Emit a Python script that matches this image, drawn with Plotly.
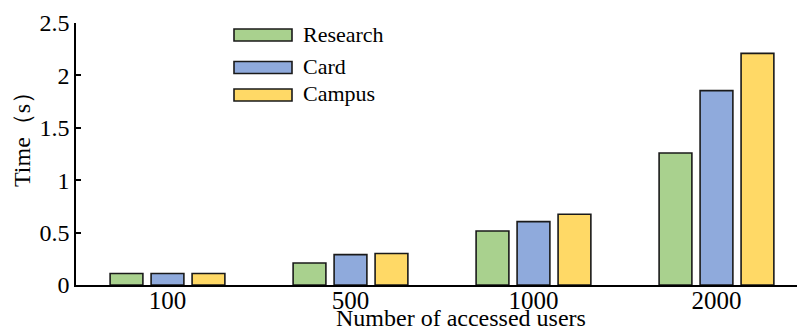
import plotly.graph_objects as go

# Number of accessed users (x categories)
categories = ["100", "500", "1000", "2000"]

# Response time in seconds for each scenario
research = [0.11, 0.21, 0.515, 1.26]
card = [0.11, 0.29, 0.605, 1.855]
campus = [0.11, 0.30, 0.675, 2.21]

series_names = ["Research", "Card", "Campus"]
series_colors = ["#A9D18E", "#8FAADC", "#FFD966"]
series_values = [research, card, campus]

FONT = "Liberation Serif, Times New Roman, serif"
EDGE = "#1a1a1a"
INK = "#000000"

x_pos = list(range(len(categories)))

fig = go.Figure()
for name, color, vals in zip(series_names, series_colors, series_values):
    fig.add_trace(go.Bar(
        x=x_pos, y=vals, name=name,
        marker=dict(color=color, line=dict(color=EDGE, width=1.6)),
        showlegend=False,
    ))

# Legend drawn as boxes + labels in paper coordinates
W, H = 797, 331
ml, mr, mt, mb = 76, 0, 23, 46
pw, ph = W - ml - mr, H - mt - mb


def px_x(px):
    return (px - ml) / pw


def px_y(py):
    return (H - mb - py) / ph


legend_rows = [35, 67.5, 95]
shapes = []
annotations = []
for name, color, cy in zip(series_names, series_colors, legend_rows):
    shapes.append(dict(
        type="rect", xref="paper", yref="paper",
        x0=px_x(234), x1=px_x(292), y0=px_y(cy + 6), y1=px_y(cy - 6),
        fillcolor=color, line=dict(color=EDGE, width=1.6),
    ))
    annotations.append(dict(
        xref="paper", yref="paper", x=px_x(301), y=px_y(cy - 1),
        xanchor="left", yanchor="middle", text=name, showarrow=False,
        font=dict(family=FONT, size=22, color=INK),
    ))

# Axis titles
annotations.append(dict(
    xref="paper", yref="paper", x=px_x(461), y=px_y(317.5),
    xanchor="center", yanchor="middle", text="Number of accessed users",
    showarrow=False, font=dict(family=FONT, size=24, color=INK),
))
annotations.append(dict(
    xref="paper", yref="paper", x=px_x(22), y=px_y(134),
    xanchor="center", yanchor="middle", text="Time（s）", textangle=-90,
    showarrow=False, font=dict(family=FONT, size=24, color=INK),
))

fig.update_layout(
    width=W, height=H,
    margin=dict(l=ml, r=mr, t=mt, b=mb, pad=0),
    paper_bgcolor="white", plot_bgcolor="white",
    barmode="group", bargap=0.328, bargroupgap=0.2,
    font=dict(family=FONT, size=24, color=INK),
    shapes=shapes, annotations=annotations,
    xaxis=dict(
        range=[-0.5, 3.44], tickvals=x_pos, ticktext=categories,
        showline=True, linecolor=INK, linewidth=1.6,
        ticks="", showgrid=False, zeroline=False,
        ticklabelstandoff=-8,
        tickfont=dict(family=FONT, size=25, color=INK),
    ),
    yaxis=dict(
        range=[0, 2.5], tickvals=[0, 0.5, 1, 1.5, 2, 2.5],
        ticktext=["0", "0.5", "1", "1.5", "2", "2.5"],
        showline=True, linecolor=INK, linewidth=1.6,
        ticks="inside", ticklen=5, tickwidth=1.6, tickcolor=INK,
        showgrid=False, zeroline=False,
        tickfont=dict(family=FONT, size=24, color=INK),
    ),
)

fig.write_html("out.html")
